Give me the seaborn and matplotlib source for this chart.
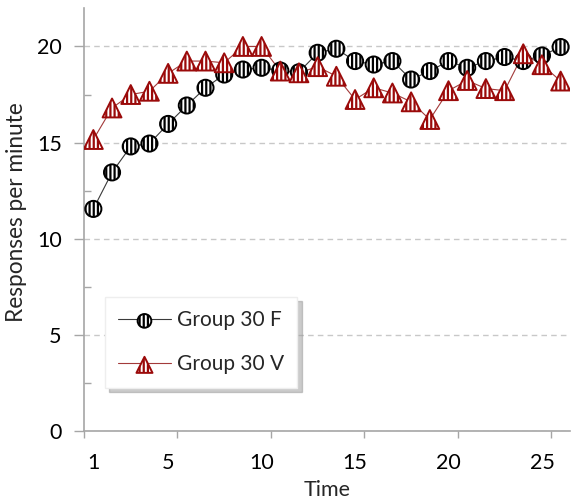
import matplotlib
matplotlib.use("Agg")
import matplotlib.pyplot as plt
import seaborn as sns
import pandas as pd
import numpy as np
from matplotlib.ticker import FixedLocator

time = list(range(1, 27))
group_f = [11.55, 13.45, 14.8, 14.95, 15.97, 16.93, 17.85, 18.54, 18.8, 18.89,
           18.75, 18.66, 19.67, 19.88, 19.24, 19.06, 19.24, 18.28, 18.72, 19.24,
           18.89, 19.24, 19.45, 19.24, 19.53, 19.97]
group_v = [15.16, 16.8, 17.5, 17.67, 18.6, 19.24, 19.24, 19.15, 20.0, 20.0,
           18.72, 18.63, 18.95, 18.45, 17.24, 17.85, 17.58, 17.12, 16.2, 17.7,
           18.23, 17.81, 17.7, 19.62, 19.05, 18.2]
labels = ["Group 30 F", "Group 30 V"]
xtick_labels = [1, 5, 10, 15, 20, 25]

df_f = pd.DataFrame({"Time": time, "Responses per minute": group_f})
df_v = pd.DataFrame({"Time": time, "Responses per minute": group_v})

sns.set_theme(style="white")
plt.rcParams["font.family"] = ["Lato", "DejaVu Sans"]
plt.rcParams["hatch.linewidth"] = 1.6

fig = plt.figure(figsize=(5.72, 5.03), dpi=100)
ax = fig.add_axes([84 / 572, 72 / 503, 486 / 572, 423 / 503])

red = "#9B0A0A"
fs = 15.5
sns.lineplot(data=df_f, x="Time", y="Responses per minute", ax=ax,
             color="#3A3A3A", linewidth=0.8, zorder=2)
sns.lineplot(data=df_v, x="Time", y="Responses per minute", ax=ax,
             color="#A33A3A", linewidth=0.8, zorder=2)
line_f, line_v = ax.lines[0], ax.lines[1]

sns.scatterplot(data=df_f, x="Time", y="Responses per minute", ax=ax,
                marker="o", s=135, color="white", edgecolor="black",
                linewidth=1.4, zorder=3)
sc_f = ax.collections[-1]
sc_f.set_hatch("||||")
sns.scatterplot(data=df_v, x="Time", y="Responses per minute", ax=ax,
                marker="^", s=185, color="white", edgecolor=red,
                linewidth=1.4, zorder=4)
sc_v = ax.collections[-1]
sc_v.set_hatch("||||")

ax.set_xlim(0.5, 26.5)
ax.set_ylim(0, 22)

ax.xaxis.set_major_locator(FixedLocator(xtick_labels))
ax.set_xticklabels([str(v) for v in xtick_labels])
ax.xaxis.set_minor_locator(FixedLocator(np.arange(0.5, 27, 5)))
ax.tick_params(axis="x", which="major", length=0, labelsize=fs, pad=16, colors="black")
ax.tick_params(axis="x", which="minor", length=5, width=1, color="#A6A6A6",
               direction="out", bottom=True)

ax.yaxis.set_major_locator(FixedLocator([0, 5, 10, 15, 20]))
ax.yaxis.set_minor_locator(FixedLocator([2.5, 7.5, 12.5, 17.5]))
ax.tick_params(axis="y", which="major", length=7, width=1, color="#A6A6A6",
               direction="out", labelsize=fs, pad=9, labelcolor="black", left=True)
ax.tick_params(axis="y", which="minor", length=5, width=1, color="#A6A6A6",
               direction="in", left=True)

ax.grid(axis="y", which="major", linestyle=(0, (4, 3)), color="#C8C8C8", linewidth=1)
ax.set_axisbelow(True)
for s in ["top", "right"]:
    ax.spines[s].set_visible(False)
for s in ["left", "bottom"]:
    ax.spines[s].set_color("#A6A6A6")
    ax.spines[s].set_linewidth(1.2)

ax.set_xlabel("Time", fontsize=fs, labelpad=5)
ax.set_ylabel("Responses per minute", fontsize=16.3)
ax.yaxis.set_label_coords(-0.118, 0.518)

leg = ax.legend(handles=[(line_f, sc_f), (line_v, sc_v)], labels=labels,
                loc="lower left", bbox_to_anchor=(0.043, 0.102),
                borderaxespad=0, frameon=True,
                shadow={"ox": 3, "oy": -3, "color": "0.6", "alpha": 0.5},
                fancybox=False, fontsize=15, markerscale=0.85, scatterpoints=1,
                handlelength=2.5, handletextpad=0.3, labelspacing=1.15,
                borderpad=0.65, edgecolor="#EEEEEE", framealpha=1)

fig.savefig("out.png", dpi=100)
